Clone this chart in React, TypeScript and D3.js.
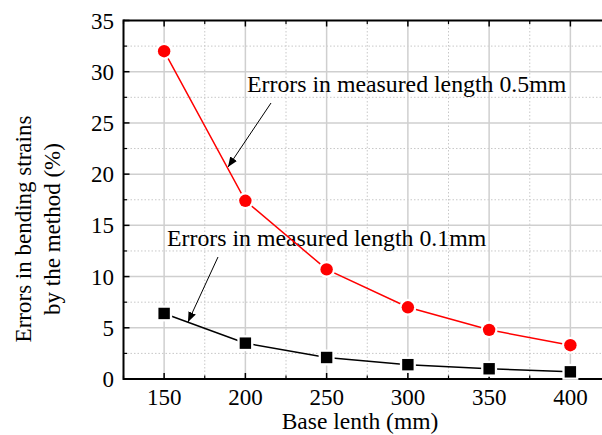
import React from "react";
import * as d3 from "d3";

const baseLengths = [150, 200, 250, 300, 350, 400];
const errors05 = [32.0, 17.4, 10.7, 7.0, 4.8, 3.3];
const errors01 = [6.4, 3.5, 2.1, 1.4, 1.0, 0.7];
const xTicks = [150, 200, 250, 300, 350, 400];
const xMinor = [125, 175, 225, 275, 325, 375, 425];
const yTicks = [0, 5, 10, 15, 20, 25, 30, 35];
const yMinor = [2.5, 7.5, 12.5, 17.5, 22.5, 27.5, 32.5];

const W = 602;
const H = 435;
const FONT = '"Liberation Serif", "DejaVu Serif", serif';

export default function App() {
  const x = d3.scaleLinear().domain([125, 425]).range([123.5, 611]);
  const y = d3.scaleLinear().domain([0, 35]).range([379, 20.5]);
  const line = d3
    .line<number>()
    .x((_, i) => x(baseLengths[i]))
    .y((d) => y(d));

  const left = x(125);
  const bottom = y(0);
  const top = y(35);

  return (
    <svg
      width={W}
      height={H}
      style={{ position: "absolute", left: 0, top: 0, background: "#fff", fontFamily: FONT }}
    >
      <defs>
        <marker id="ah" viewBox="0 0 10 10" refX="10" refY="5" markerWidth="10" markerHeight="10" markerUnits="userSpaceOnUse" orient="auto">
          <path d="M0,1 L10,5 L0,9 Z" fill="#000" />
        </marker>
      </defs>
      <rect x={0} y={0} width={W} height={H} fill="#fff" />
      {xMinor.map((v) => (
        <line key={"xm" + v} x1={x(v)} x2={x(v)} y1={top} y2={bottom} stroke="#c8c8c8" strokeWidth={1} strokeDasharray="1.5,2" />
      ))}
      {yMinor.map((v) => (
        <line key={"ym" + v} x1={left} x2={W} y1={y(v)} y2={y(v)} stroke="#c8c8c8" strokeWidth={1} strokeDasharray="1.5,2" />
      ))}
      {xTicks.map((v) => (
        <line key={"xg" + v} x1={x(v)} x2={x(v)} y1={top} y2={bottom} stroke="#cfcfcf" strokeWidth={1.5} />
      ))}
      {yTicks.slice(1, -1).map((v) => (
        <line key={"yg" + v} x1={left} x2={W} y1={y(v)} y2={y(v)} stroke="#cfcfcf" strokeWidth={1.5} />
      ))}
      <line x1={left} x2={W} y1={bottom} y2={bottom} stroke="#000" strokeWidth={2} />
      <line x1={left} x2={W} y1={top} y2={top} stroke="#000" strokeWidth={2} />
      <line x1={left} x2={left} y1={top - 1} y2={bottom + 1} stroke="#000" strokeWidth={2} />
      {xTicks.map((v) => (
        <g key={"xt" + v}>
          <line x1={x(v)} x2={x(v)} y1={bottom} y2={bottom - 6} stroke="#000" strokeWidth={1.5} />
          <line x1={x(v)} x2={x(v)} y1={top} y2={top + 6} stroke="#000" strokeWidth={1.5} />
          <text x={x(v)} y={405} fontSize={23} textAnchor="middle" fill="#000" style={{ fontFamily: FONT }}>{v}</text>
        </g>
      ))}
      {xMinor.map((v) => (
        <g key={"xmt" + v}>
          <line x1={x(v)} x2={x(v)} y1={bottom} y2={bottom - 3.5} stroke="#000" strokeWidth={1.2} />
          <line x1={x(v)} x2={x(v)} y1={top} y2={top + 3.5} stroke="#000" strokeWidth={1.2} />
        </g>
      ))}
      {yTicks.map((v) => (
        <g key={"yt" + v}>
          <line x1={left} x2={left + 6} y1={y(v)} y2={y(v)} stroke="#000" strokeWidth={1.5} />
          <text x={114} y={y(v) + 8} fontSize={23} textAnchor="end" fill="#000" style={{ fontFamily: FONT }}>{v}</text>
        </g>
      ))}
      {yMinor.map((v) => (
        <line key={"ymt" + v} x1={left} x2={left + 3.5} y1={y(v)} y2={y(v)} stroke="#000" strokeWidth={1.2} />
      ))}
      <text x={247} y={92} fontSize={23.8} fill="#000" style={{ fontFamily: FONT }}>Errors in measured length 0.5mm</text>
      <line x1={271} y1={103} x2={228} y2={167} stroke="#000" strokeWidth={1} markerEnd="url(#ah)" />
      <text x={167} y={246} fontSize={23.8} fill="#000" style={{ fontFamily: FONT }}>Errors in measured length 0.1mm</text>
      <line x1={218} y1={257} x2={188} y2={322} stroke="#000" strokeWidth={1} markerEnd="url(#ah)" />
      <path d={line(errors05) || ""} fill="none" stroke="#ff0000" strokeWidth={1.5} />
      <path d={line(errors01) || ""} fill="none" stroke="#000" strokeWidth={1.5} />
      {errors05.map((v, i) => (
        <g key={"r" + i}>
          <circle cx={x(baseLengths[i])} cy={y(v)} r={8.5} fill="#fff" />
          <circle cx={x(baseLengths[i])} cy={y(v)} r={6.2} fill="#ff0000" />
        </g>
      ))}
      {errors01.map((v, i) => (
        <g key={"b" + i}>
          <rect x={x(baseLengths[i]) - 8} y={y(v) - 8} width={16} height={16} fill="#fff" />
          <rect x={x(baseLengths[i]) - 5.7} y={y(v) - 5.7} width={11.4} height={11.4} fill="#000" />
        </g>
      ))}
      <text x={360} y={429} fontSize={23.5} textAnchor="middle" fill="#000" style={{ fontFamily: FONT }}>Base lenth (mm)</text>
      <text transform="translate(31,229) rotate(-90)" fontSize={23} textAnchor="middle" fill="#000" style={{ fontFamily: FONT }}>Errors in bending strains</text>
      <text transform="translate(60,229) rotate(-90)" fontSize={23} textAnchor="middle" fill="#000" style={{ fontFamily: FONT }}>by the method (%)</text>
    </svg>
  );
}
